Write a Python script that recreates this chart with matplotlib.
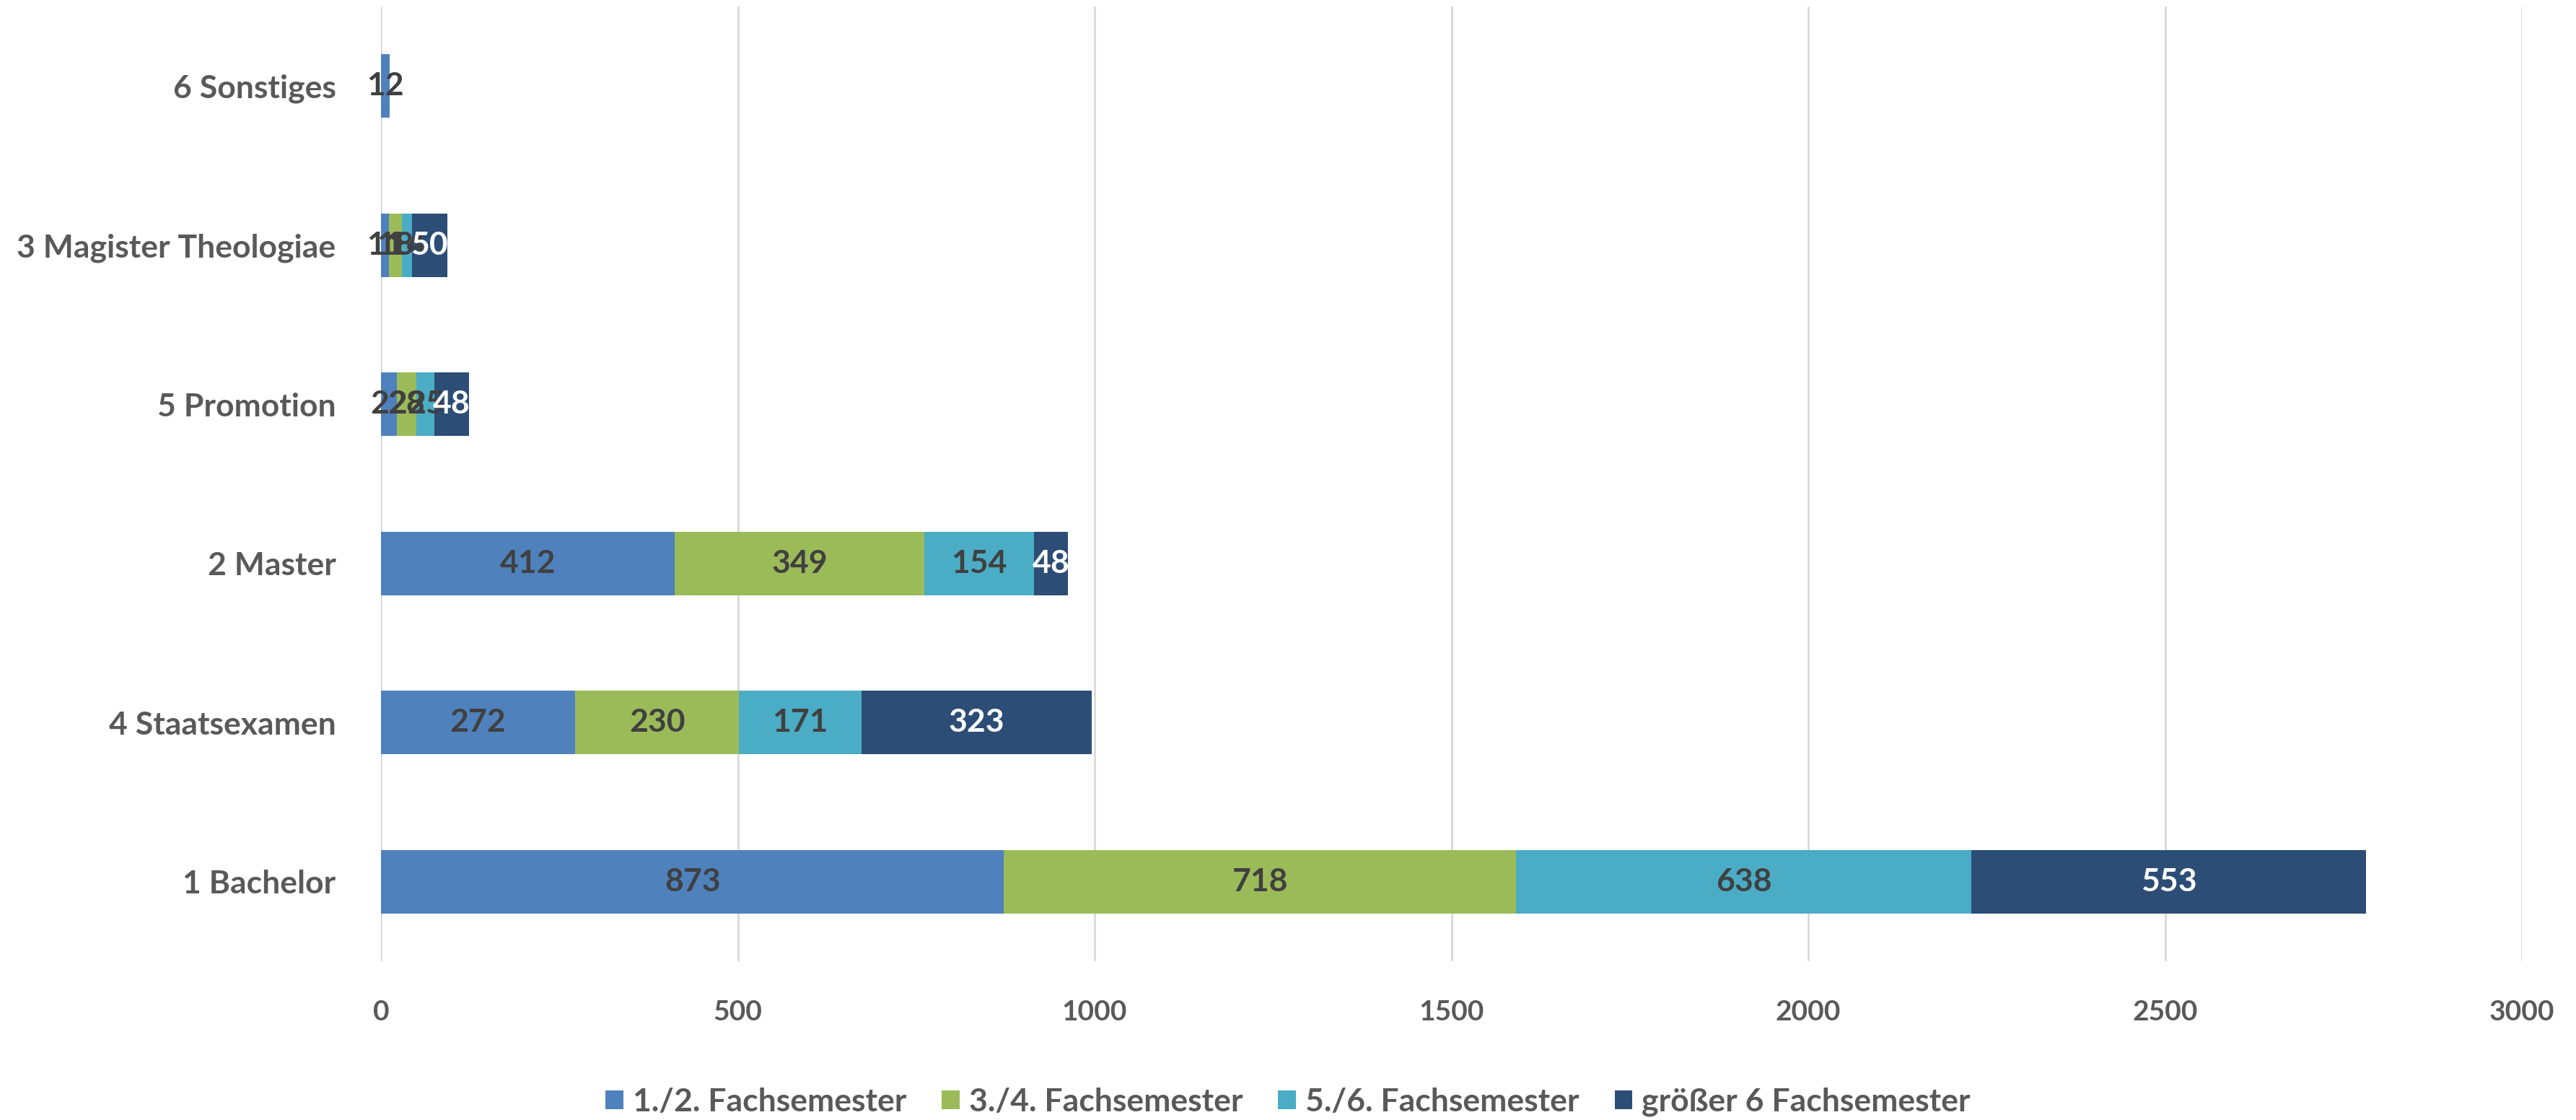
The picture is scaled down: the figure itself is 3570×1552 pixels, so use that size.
import matplotlib
matplotlib.use("Agg")
import matplotlib.pyplot as plt
import numpy as np

categories = ["1 Bachelor", "4 Staatsexamen", "2 Master", "5 Promotion",
              "3 Magister Theologiae", "6 Sonstiges"]
series_names = ["1./2. Fachsemester", "3./4. Fachsemester",
                "5./6. Fachsemester", "größer 6 Fachsemester"]
sem_1_2 = [873, 272, 412, 22, 11, 12]
sem_3_4 = [718, 230, 349, 28, 18, 0]
sem_5_6 = [638, 171, 154, 25, 14, 0]
sem_gt6 = [553, 323, 48, 48, 50, 0]
x_ticks = [0, 500, 1000, 1500, 2000, 2500, 3000]

colors = ["#4F81BD", "#9BBB59", "#4BACC6", "#2C4D75"]
label_colors = ["#404040", "#404040", "#404040", "#FFFFFF"]
FONT = "Lato"
plt.rcParams["font.family"] = [FONT, "DejaVu Sans"]

W, H = 3570, 1552
fig = plt.figure(figsize=(W / 100, H / 100), dpi=100)
left, right, top, bottom = 528 / W, 3495 / W, 9 / H, 1332 / H
ax = fig.add_axes([left, 1 - bottom, right - left, bottom - top])

y = np.arange(len(categories))
data = [sem_1_2, sem_3_4, sem_5_6, sem_gt6]
cum = np.zeros(len(categories))
for vals, col, lc, name in zip(data, colors, label_colors, series_names):
    vals = np.array(vals, dtype=float)
    bars = ax.barh(y, vals, left=cum, height=0.40, color=col, label=name,
                   edgecolor="none")
    for b, v in zip(bars, vals):
        if v > 0:
            ax.text(b.get_x() + b.get_width() / 2, b.get_y() + b.get_height() / 2,
                    f"{int(v)}", ha="center", va="center", fontsize=32,
                    fontweight="bold", color=lc)
    cum += vals

ax.set_xlim(0, 3000)
ax.set_ylim(-0.5, len(categories) - 0.5)
ax.set_xticks(x_ticks)
ax.set_xticklabels([str(t) for t in x_ticks], fontsize=28, fontweight="bold",
                   color="#595959")
ax.set_yticks(y)
ax.set_yticklabels(categories, fontsize=32, fontweight="bold", color="#595959")
ax.tick_params(axis="both", length=0)
ax.tick_params(axis="x", pad=38)
ax.tick_params(axis="y", pad=45)
for s in ax.spines.values():
    s.set_visible(False)
ax.grid(axis="x", color="#D9D9D9", linewidth=2)
ax.set_axisbelow(True)

handles, labels = ax.get_legend_handles_labels()
fig.legend(handles, labels, loc="center", bbox_to_anchor=(0.5, 1 - 1527 / H),
           ncol=4, frameon=False, handlelength=0.55,
           handleheight=0.55, handletextpad=0.3, columnspacing=1.1,
           labelcolor="#595959", prop={"family": FONT, "weight": "bold", "size": 32})

fig.savefig("out.png", dpi=100)
